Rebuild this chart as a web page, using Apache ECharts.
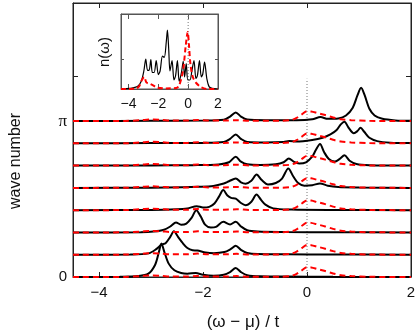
<!DOCTYPE html>
<html>
<head>
<meta charset="utf-8">
<script src="https://cdn.jsdelivr.net/npm/echarts@6/dist/echarts.min.js"></script>
<style>
  html, body { margin: 0; padding: 0; background: #fff; }
  #chart { width: 420px; height: 335px; }
</style>
</head>
<body>
<div id="chart"></div>
<script>
// tick positions
var xTicks = [-4, -2, 0, 2];
var rowTicks = [0, 1, 2, 3, 4, 5, 6, 7, 9];
var rowLabels = [0, 7];
var insetYTicks = [1];

// spectral function per wave number (row 0 = k 0 ... row 7 = k pi), [omega, A]
var row0 = [[-4.5,0],[-3.6,0.01],[-3.25,0.04],[-3.05,0.15],[-2.92,0.55],[-2.85,1.1],[-2.8,1.5],[-2.74,1.1],[-2.66,0.6],[-2.55,0.3],[-2.42,0.18],[-2.3,0.15],[-2.14,0.18],[-2.0,0.1],[-1.8,0.06],[-1.6,0.1],[-1.48,0.22],[-1.37,0.4],[-1.27,0.22],[-1.15,0.08],[-0.9,0.03],[-0.4,0.02],[0.5,0.01],[2,0]];
var row1 = [[-4.5,0],[-3.4,0.01],[-3.05,0.06],[-2.9,0.25],[-2.8,0.45],[-2.72,0.52],[-2.63,0.8],[-2.56,1.05],[-2.48,0.8],[-2.4,0.55],[-2.3,0.3],[-2.2,0.2],[-2.11,0.19],[-1.95,0.1],[-1.79,0.07],[-1.59,0.12],[-1.47,0.25],[-1.37,0.4],[-1.27,0.22],[-1.15,0.08],[-0.95,0.03],[-0.4,0.02],[0.5,0.01],[2,0]];
var row2 = [[-4.5,0],[-3.2,0.01],[-2.95,0.04],[-2.75,0.12],[-2.62,0.28],[-2.52,0.45],[-2.42,0.35],[-2.32,0.4],[-2.22,0.65],[-2.13,1.0],[-2.04,0.7],[-1.96,0.35],[-1.85,0.22],[-1.75,0.25],[-1.61,0.48],[-1.48,0.36],[-1.37,0.48],[-1.27,0.27],[-1.15,0.1],[-0.95,0.04],[-0.4,0.02],[0.5,0.01],[2,0]];
var row3 = [[-4.5,0],[-3,0.01],[-2.5,0.04],[-2.3,0.08],[-2.12,0.18],[-2.0,0.12],[-1.88,0.15],[-1.78,0.3],[-1.69,0.62],[-1.61,0.9],[-1.53,0.66],[-1.46,0.55],[-1.37,0.52],[-1.27,0.32],[-1.18,0.22],[-1.07,0.38],[-0.97,0.7],[-0.88,0.45],[-0.8,0.25],[-0.65,0.08],[-0.3,0.03],[0.5,0.01],[2,0]];
var row4 = [[-4.5,0],[-3,0.01],[-2.4,0.03],[-2.1,0.05],[-1.8,0.09],[-1.6,0.2],[-1.5,0.3],[-1.37,0.42],[-1.27,0.25],[-1.18,0.19],[-1.07,0.32],[-0.97,0.6],[-0.87,0.35],[-0.75,0.15],[-0.6,0.22],[-0.48,0.42],[-0.36,0.87],[-0.26,0.5],[-0.17,0.22],[-0.05,0.1],[0.1,0.12],[0.25,0.2],[0.4,0.1],[0.6,0.04],[1,0.02],[2,0]];
var row5 = [[-4.5,0],[-3,0.01],[-2.2,0.02],[-1.7,0.05],[-1.5,0.15],[-1.37,0.4],[-1.27,0.18],[-1.15,0.06],[-0.9,0.03],[-0.6,0.06],[-0.45,0.15],[-0.35,0.32],[-0.25,0.17],[-0.15,0.1],[-0.02,0.15],[0.1,0.4],[0.17,0.7],[0.25,0.97],[0.33,0.6],[0.42,0.3],[0.53,0.18],[0.63,0.3],[0.72,0.46],[0.82,0.22],[0.95,0.07],[1.2,0.02],[2,0]];
var row6 = [[-4.5,0],[-3,0.01],[-2,0.02],[-1.6,0.06],[-1.48,0.2],[-1.37,0.4],[-1.27,0.2],[-1.15,0.06],[-0.8,0.04],[-0.45,0.06],[-0.34,0.1],[-0.2,0.08],[0.1,0.15],[0.3,0.25],[0.45,0.4],[0.57,0.6],[0.65,0.85],[0.72,0.97],[0.8,0.7],[0.9,0.45],[0.97,0.55],[1.03,0.7],[1.1,0.52],[1.2,0.25],[1.35,0.1],[1.6,0.03],[2,0.01]];
var row7 = [[-4.5,0],[-3,0.01],[-2,0.02],[-1.6,0.06],[-1.48,0.2],[-1.37,0.39],[-1.27,0.2],[-1.15,0.07],[-0.8,0.04],[-0.2,0.04],[0.1,0.08],[0.26,0.18],[0.4,0.1],[0.6,0.12],[0.75,0.25],[0.88,0.6],[0.97,1.15],[1.04,1.49],[1.11,1.15],[1.2,0.55],[1.3,0.25],[1.45,0.1],[1.7,0.03],[2,0.01]];
var rows = [row0, row1, row2, row3, row4, row5, row6, row7];

// red dashed curve, same in each row
var redCurve = [[-4.5,0],[-3.5,0.005],[-3.2,0.04],[-3.0,0.07],[-2.8,0.05],[-2.6,0.02],[-2.3,0.02],[-2.1,0.05],[-1.9,0.02],[-1.6,0.02],[-1.35,0.04],[-1.1,0.01],[-0.5,0.01],[-0.3,0.05],[-0.2,0.14],[-0.1,0.3],[0,0.44],[0.08,0.43],[0.2,0.36],[0.35,0.27],[0.5,0.16],[0.65,0.08],[0.85,0.04],[1.2,0.01],[2,0]];

// inset n(omega)
var insetBlack = [[-4.5,0],[-3.9,0.02],[-3.4,0.08],[-3.15,0.25],[-2.97,0.6],[-2.84,1.0],[-2.72,0.62],[-2.62,0.62],[-2.5,0.98],[-2.4,0.55],[-2.28,0.55],[-2.14,0.95],[-2.0,0.48],[-1.88,0.6],[-1.72,1.1],[-1.6,1.05],[-1.46,1.6],[-1.39,1.96],[-1.3,1.3],[-1.22,0.6],[-1.08,0.95],[-0.95,0.3],[-0.84,0.45],[-0.72,0.95],[-0.6,0.25],[-0.45,0.55],[-0.33,0.92],[-0.24,0.4],[-0.13,0.85],[-0.02,0.3],[0.12,0.3],[0.25,0.6],[0.39,0.95],[0.52,0.35],[0.62,0.45],[0.76,0.95],[0.88,0.4],[0.98,0.5],[1.1,0.9],[1.25,0.35],[1.4,0.08],[1.6,0.02],[2,0]];
var insetRed = [[-4.5,0],[-3.6,0.01],[-3.3,0.08],[-3.1,0.3],[-2.95,0.4],[-2.8,0.22],[-2.55,0.17],[-2.35,0.12],[-2.1,0.05],[-1.5,0.02],[-0.8,0.03],[-0.6,0.12],[-0.35,0.6],[-0.15,1.5],[-0.03,1.9],[0.05,1.5],[0.16,0.8],[0.32,0.39],[0.54,0.2],[0.87,0.06],[1.3,0],[2,0]];

var font = 'Liberation Sans';
var serif = 'Liberation Serif';
var chart = echarts.init(document.getElementById('chart'), null, {renderer: 'canvas'});

var series = [];
series.push({
  type: 'line', xAxisIndex: 0, yAxisIndex: 0, showSymbol: false, silent: true,
  data: [[0, 0], [0, 8.9]],
  lineStyle: {color: '#777', width: 1, type: [1, 2]}
});
rows.forEach(function (r, i) {
  series.push({
    type: 'line', xAxisIndex: 0, yAxisIndex: 0, showSymbol: false, smooth: 0.3,
    data: r.map(function (p) { return [p[0], p[1] + i]; }),
    lineStyle: {color: '#000', width: 2}
  });
});
rows.forEach(function (r, i) {
  series.push({
    type: 'line', xAxisIndex: 0, yAxisIndex: 0, showSymbol: false, smooth: 0.3,
    data: redCurve.map(function (p) { return [p[0], p[1] + i]; }),
    lineStyle: {color: '#f00', width: 2, type: [6, 4]}
  });
});
series.push({
  type: 'line', xAxisIndex: 2, yAxisIndex: 2, showSymbol: false, silent: true,
  data: [[0, 0], [0, 2.5]],
  lineStyle: {color: '#777', width: 1, type: [1, 2]}
});
series.push({
  type: 'line', xAxisIndex: 2, yAxisIndex: 2, showSymbol: false, smooth: 0.3,
  data: insetBlack, lineStyle: {color: '#000', width: 1.2}
});
series.push({
  type: 'line', xAxisIndex: 2, yAxisIndex: 2, showSymbol: false, smooth: 0.3,
  data: insetRed, lineStyle: {color: '#f00', width: 2, type: [5, 3]}
});

function xAx(grid, pos, labels, size, color) {
  return {
    type: 'value', gridIndex: grid, position: pos, min: -4.5, max: 2,
    splitLine: {show: false},
    axisLine: {show: true, onZero: false, lineStyle: {color: color}},
    axisTick: {inside: true, length: 5, customValues: xTicks, lineStyle: {color: color}},
    axisLabel: {show: labels, customValues: xTicks, margin: 8, color: '#111',
      fontFamily: font, fontSize: size,
      formatter: function (v) { return String(v).replace('-', '\u2212'); }}
  };
}

function yAx(grid, pos, max, ticks, color, len) {
  return {
    type: 'value', gridIndex: grid, position: pos, min: 0, max: max,
    splitLine: {show: false},
    axisLine: {show: true, onZero: false, lineStyle: {color: color}},
    axisTick: {inside: true, length: len, customValues: ticks, lineStyle: {color: color}},
    axisLabel: {show: false}
  };
}

var mainLeft = yAx(0, 'left', 12.3, rowTicks, '#222', 5);
mainLeft.axisLabel = {show: true, customValues: rowLabels, margin: 6, color: '#111', fontFamily: font, fontSize: 15,
  formatter: function (v) { return v === 0 ? '0' : '{g|\u03c0}'; },
  rich: {g: {fontFamily: serif, fontSize: 17, color: '#111'}}};

chart.setOption({
  animation: false,
  grid: [
    {left: 73, top: 3, width: 338, height: 274, show: true, borderColor: '#222', borderWidth: 1},
    {left: 121, top: 14, width: 97, height: 75, show: true, borderColor: '#555', borderWidth: 1, backgroundColor: '#fff'}
  ],
  xAxis: [
    xAx(0, 'bottom', true, 15, '#222'),
    xAx(0, 'top', false, 15, '#222'),
    xAx(1, 'bottom', true, 14, '#555'),
    xAx(1, 'top', false, 14, '#555')
  ],
  yAxis: [
    mainLeft,
    yAx(0, 'right', 12.3, rowTicks, '#222', 5),
    yAx(1, 'left', 2.5, insetYTicks, '#555', 3),
    yAx(1, 'right', 2.5, insetYTicks, '#555', 3)
  ],
  graphic: [
    {type: 'text', x: 16, y: 161, rotation: Math.PI / 2,
      style: {text: 'wave number', font: '16px "Liberation Sans"', fill: '#111', align: 'center', verticalAlign: 'middle'}},
    {type: 'text', x: 243, y: 322,
      style: {text: '(\u03c9 \u2212 \u03bc) / t', font: '17px "Liberation Sans"', fill: '#111', align: 'center', verticalAlign: 'middle'}},
    {type: 'text', x: 105, y: 52, rotation: Math.PI / 2,
      style: {text: 'n(\u03c9)', font: '15px "Liberation Sans"', fill: '#111', align: 'center', verticalAlign: 'middle'}}
  ],
  series: series
});
</script>
</body>
</html>
